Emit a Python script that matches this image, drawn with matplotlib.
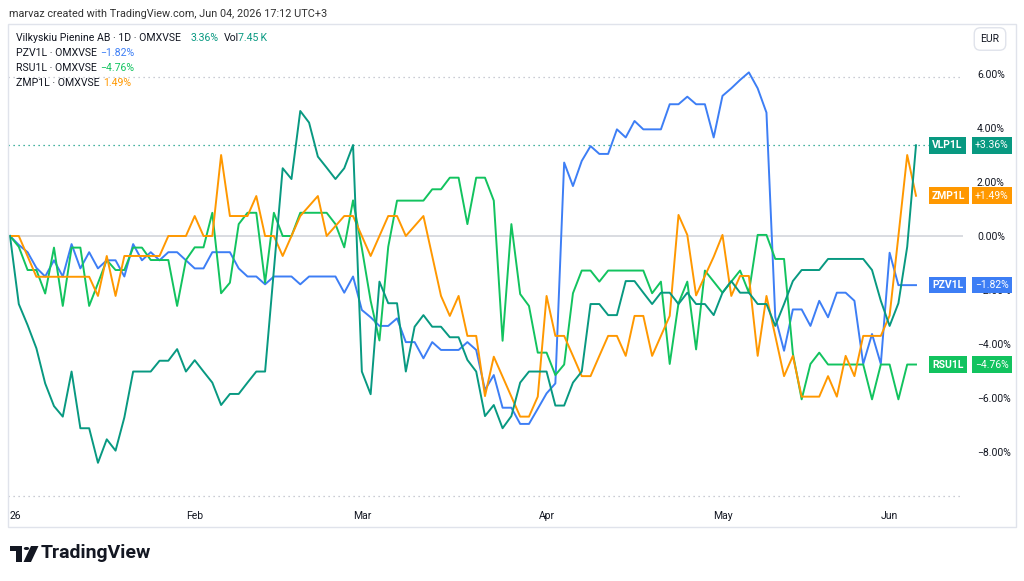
import matplotlib
matplotlib.use("Agg")
import matplotlib.pyplot as plt
from matplotlib.patches import Rectangle, Circle, Polygon
from matplotlib.transforms import blended_transform_factory

plt.rcParams["font.family"] = ["Roboto", "DejaVu Sans"]

# percent change since first session, one value per trading day
vlp1l = [0, -2.52, -3.3, -4.16, -5.46, -6.3, -6.69, -5.02, -7.12, -7.12,
         -8.4, -7.53, -7.95, -6.72, -5.02, -5.02, -5.02, -4.62, -4.62, -4.19,
         -5.02, -4.6, -5.02, -5.43, -6.26, -5.85, -5.85, -5.43, -5.02, -5.02,
         -1.26, 2.51, 2.11, 4.63, 4.2, 2.94, 2.53, 2.11, 2.51, 3.37,
         -5.02, -5.86, -1.69, -2.49, -2.49, -5.02, -3.36, -2.93, -3.36, -3.36,
         -3.75, -3.75, -4.59, -5.02, -6.67, -6.26, -7.12, -6.67, -5.43, -5.02,
         -5.02, -5.02, -6.28, -6.28, -5.43, -5.02, -2.52, -2.52, -2.93, -2.93,
         -1.67, -1.67, -2.1, -2.52, -2.1, -2.1, -2.52, -2.1, -2.52, -2.52,
         -2.93, -2.1, -1.67, -2.1, -2.1, -2.52, -2.52, -3.33, -2.52, -1.67,
         -1.26, -1.26, -1.26, -0.85, -0.85, -0.85, -0.85, -0.85, -1.26, -2.4,
         -3.33, -2.49, -0.4, 3.36]
pzv1l = [0, -0.33, -0.6, -1.18, -1.5, -0.9, -1.5, -0.3, -1.2, -0.6,
         -1.2, -0.9, -0.9, -1.5, -0.3, -0.9, -0.6, -0.9, -0.6, -0.6,
         -0.9, -1.2, -1.2, -0.6, -0.6, -0.6, -1.2, -1.5, -1.5, -1.79,
         -1.5, -1.5, -1.5, -1.79, -1.5, -1.5, -1.5, -1.5, -2.1, -1.5,
         -2.74, -3.01, -3.33, -3.33, -3.05, -3.93, -3.93, -4.53, -3.93, -4.22,
         -4.22, -4.22, -3.93, -4.22, -5.7, -5.15, -6.36, -6.36, -6.96, -6.96,
         -6.4, -5.83, -5.46, 2.72, 1.85, 2.78, 3.33, 3.04, 3.04, 3.95,
         3.65, 4.26, 3.95, 3.95, 3.95, 4.88, 4.88, 5.16, 4.88, 4.88,
         3.65, 5.19, 5.47, 5.78, 6.06, 5.47, 4.57, -3.0, -4.25, -2.72,
         -2.72, -3.33, -2.4, -3.01, -2.1, -2.1, -2.4, -4.74, -3.63, -4.74,
         -0.62, -1.82, -1.82, -1.82]
rsu1l = [0, -0.4, -1.26, -1.26, -2.13, -0.43, -2.59, -0.43, -0.43, -2.59,
         -1.75, -0.89, -1.26, -1.26, -0.43, -0.43, -0.89, -0.89, -0.89, -2.59,
         -0.89, -0.42, -0.42, 0.86, -2.12, -1.73, 0.44, 0.86, 0.86, -1.73,
         0.86, 0, 0, 0.86, 0.86, 0.86, 0.86, 0.44, -0.42, 1.32,
         -0.45, -2.4, -3.87, -0.4, 1.31, 1.31, 1.31, 1.31, 1.73, 1.73,
         2.16, 2.16, 0.44, 2.16, 2.16, 1.31, -3.88, 0.44, -2.15, -2.59,
         -4.32, -4.32, -5.15, -4.76, -2.12, -1.28, -1.28, -1.69, -1.28, -1.28,
         -1.28, -1.28, -1.28, -2.12, -1.69, -4.74, -2.49, -1.69, -4.2, -1.28,
         -1.69, -2.1, -1.69, -1.28, -2.1, 0.04, 0.04, -0.85, -0.85, -4.35,
         -6.05, -4.74, -4.32, -4.76, -4.76, -4.76, -4.76, -4.76, -6.05, -4.76,
         -4.76, -6.05, -4.76, -4.76]
zmp1l = [0, 0, -0.75, -1.51, -1.51, -1.51, -1.51, -1.51, -1.51, -1.51,
         -2.22, -0.74, -2.22, -0.74, -0.74, -0.74, -0.74, -0.74, 0, 0,
         0, 0.74, 0, 0, 3.0, 0.74, 0.74, 0.74, 1.48, 0,
         0, -0.74, 0, 0.74, 1.11, 1.48, 0, 0.37, 0.74, 0.74,
         0, -0.74, 0, 0.74, 0.74, 0, 0.37, 0.74, -0.74, -2.22,
         -2.96, -2.22, -3.7, -3.7, -5.93, -4.47, -5.21, -5.95, -6.69, -6.69,
         -5.95, -2.22, -3.7, -3.7, -4.44, -5.19, -5.19, -4.44, -3.7, -3.7,
         -4.44, -2.96, -2.96, -4.44, -3.7, -2.96, 0.78, 0.04, -2.2, -1.48,
         -0.77, 0.04, -2.22, -1.48, -1.48, -4.44, -2.22, -3.7, -5.19, -4.44,
         -5.95, -5.95, -5.95, -5.19, -5.95, -4.44, -5.19, -3.7, -3.7, -3.7,
         -2.95, 0.0, 3.0, 1.49]

symbols = ["VLP1L", "PZV1L", "RSU1L", "ZMP1L"]
last_labels = ["+3.36%", "\u22121.82%", "\u22124.76%", "+1.49%"]
month_labels = ["26", "Feb", "Mar", "Apr", "May", "Jun"]
month_days = [0, 21, 40, 61, 81, 100]
y_ticks = [6, 4, 2, 0, -2, -4, -6, -8]

TEAL = "#089981"
BLUE = "#3d7ef5"
GREEN = "#12c35f"
ORANGE = "#ff9800"
TXT = "#131722"

fig = plt.figure(figsize=(10.24, 5.81), dpi=100)
W, H = 1024, 581


def fx(x):
    return x / W


def fy(y):
    return 1 - y / H


ax = fig.add_axes([fx(8), fy(500), 955 / W, 476 / H])
days = list(range(len(vlp1l)))
step = 906 / (len(vlp1l) - 1)
ax.set_xlim(-2 / step, 953 / step)
ax.set_ylim((236 - 500) / 27, (236 - 24) / 27)

# zero line, range markers and last price line
ax.axhline(0, color="#cfd2d9", lw=1.1, zorder=1)
ax.axhline((236 - 77) / 27, color="#b8bcc6", lw=0.9, ls=(0, (1, 3)), zorder=1)
ax.axhline((236 - 496) / 27, color="#b8bcc6", lw=0.9, ls=(0, (1, 3)), zorder=1)
ax.axhline(vlp1l[-1], color=TEAL, lw=0.9, ls=(0, (1, 3)), zorder=1)

ax.plot(days, pzv1l, color=BLUE, lw=1.4, zorder=3)
ax.plot(days, rsu1l, color=GREEN, lw=1.4, zorder=3)
ax.plot(days, zmp1l, color=ORANGE, lw=1.4, zorder=3)
ax.plot(days, vlp1l, color=TEAL, lw=1.4, zorder=4)

for s in ax.spines.values():
    s.set_visible(False)

ax.yaxis.tick_right()
ax.set_yticks(y_ticks)
ax.set_yticklabels([f"{v:.2f}%".replace("-", "\u2212") for v in y_ticks])
ax.tick_params(axis="y", length=0, pad=10, labelsize=7.5, labelcolor=TXT)
ax.set_xticks(month_days)
ax.set_xticklabels(month_labels)
ax.tick_params(axis="x", length=0, pad=8, labelsize=7.5, labelcolor=TXT)
ax.get_xticklabels()[0].set_horizontalalignment("left")

# last value tags on the price scale
tr = blended_transform_factory(ax.transAxes, ax.transData)
series = [vlp1l, pzv1l, rsu1l, zmp1l]
colors = [TEAL, BLUE, GREEN, ORANGE]
for sym, lab, ser, col in zip(symbols, last_labels, series, colors):
    ax.text(0.9675, ser[-1], sym, transform=tr, ha="left", va="center",
            fontsize=7.5, fontweight="bold", color="white", zorder=10,
            bbox=dict(boxstyle="square,pad=0.32", fc=col, ec="none"))
    ax.text(1.0125, ser[-1], lab, transform=tr, ha="left", va="center",
            fontsize=7.5, color="white", zorder=10,
            bbox=dict(boxstyle="square,pad=0.32", fc=col, ec="none"))

# panel frame
fig.patches.append(Rectangle((fx(8), fy(527)), 1008 / W, 503 / H,
                             transform=fig.transFigure, fill=False,
                             ec="#e0e3eb", lw=1))

fig.text(fx(990), fy(39), "EUR", ha="center", va="center", fontsize=7.5,
         color=TXT, bbox=dict(boxstyle="round,pad=0.6", fc="white", ec="#e0e3eb"))

fig.text(fx(9), fy(14), "marvaz created with TradingView.com, Jun 04, 2026 17:12 UTC+3",
         ha="left", va="center", fontsize=7.8, color="#333")

# legend rows
rows = [
    [("Vilkyskiu Pienine AB \u00b7 1D \u00b7 OMXVSE", TXT, 16), ("3.36%", TEAL, 191),
     ("Vol", TXT, 224), ("7.45\u2009K", TEAL, 238)],
    [("PZV1L \u00b7 OMXVSE", TXT, 16), ("\u22121.82%", BLUE, 100)],
    [("RSU1L \u00b7 OMXVSE", TXT, 16), ("\u22124.76%", GREEN, 100)],
    [("ZMP1L \u00b7 OMXVSE", TXT, 16), ("1.49%", ORANGE, 103)],
]
for row, yy in zip(rows, [38, 53, 68, 83]):
    for txt, col, xx in row:
        fig.text(fx(xx), fy(yy), txt, ha="left", va="center", fontsize=7.6,
                 color=col, family=["Roboto", "DejaVu Sans"])

# TradingView logo
fig.patches.append(Rectangle((fx(10), fy(551)), 12 / W, 5 / H, transform=fig.transFigure,
                             fc="#131722", ec="none"))
fig.patches.append(Rectangle((fx(16), fy(562)), 6 / W, 16 / H, transform=fig.transFigure,
                             fc="#131722", ec="none"))
fig.patches.append(Circle((fx(26.5), fy(548.5)), 2.7 / W, transform=fig.transFigure,
                          fc="#131722", ec="none"))
fig.patches.append(Polygon([(fx(31), fy(546)), (fx(38.5), fy(546)), (fx(31), fy(562)),
                            (fx(23.5), fy(562))], closed=True, transform=fig.transFigure,
                           fc="#131722", ec="none"))
fig.text(fx(41), fy(553), "TradingView", ha="left", va="center", fontsize=14,
         fontweight="bold", color="#131722")

fig.savefig("out.png", dpi=100, facecolor="white")
